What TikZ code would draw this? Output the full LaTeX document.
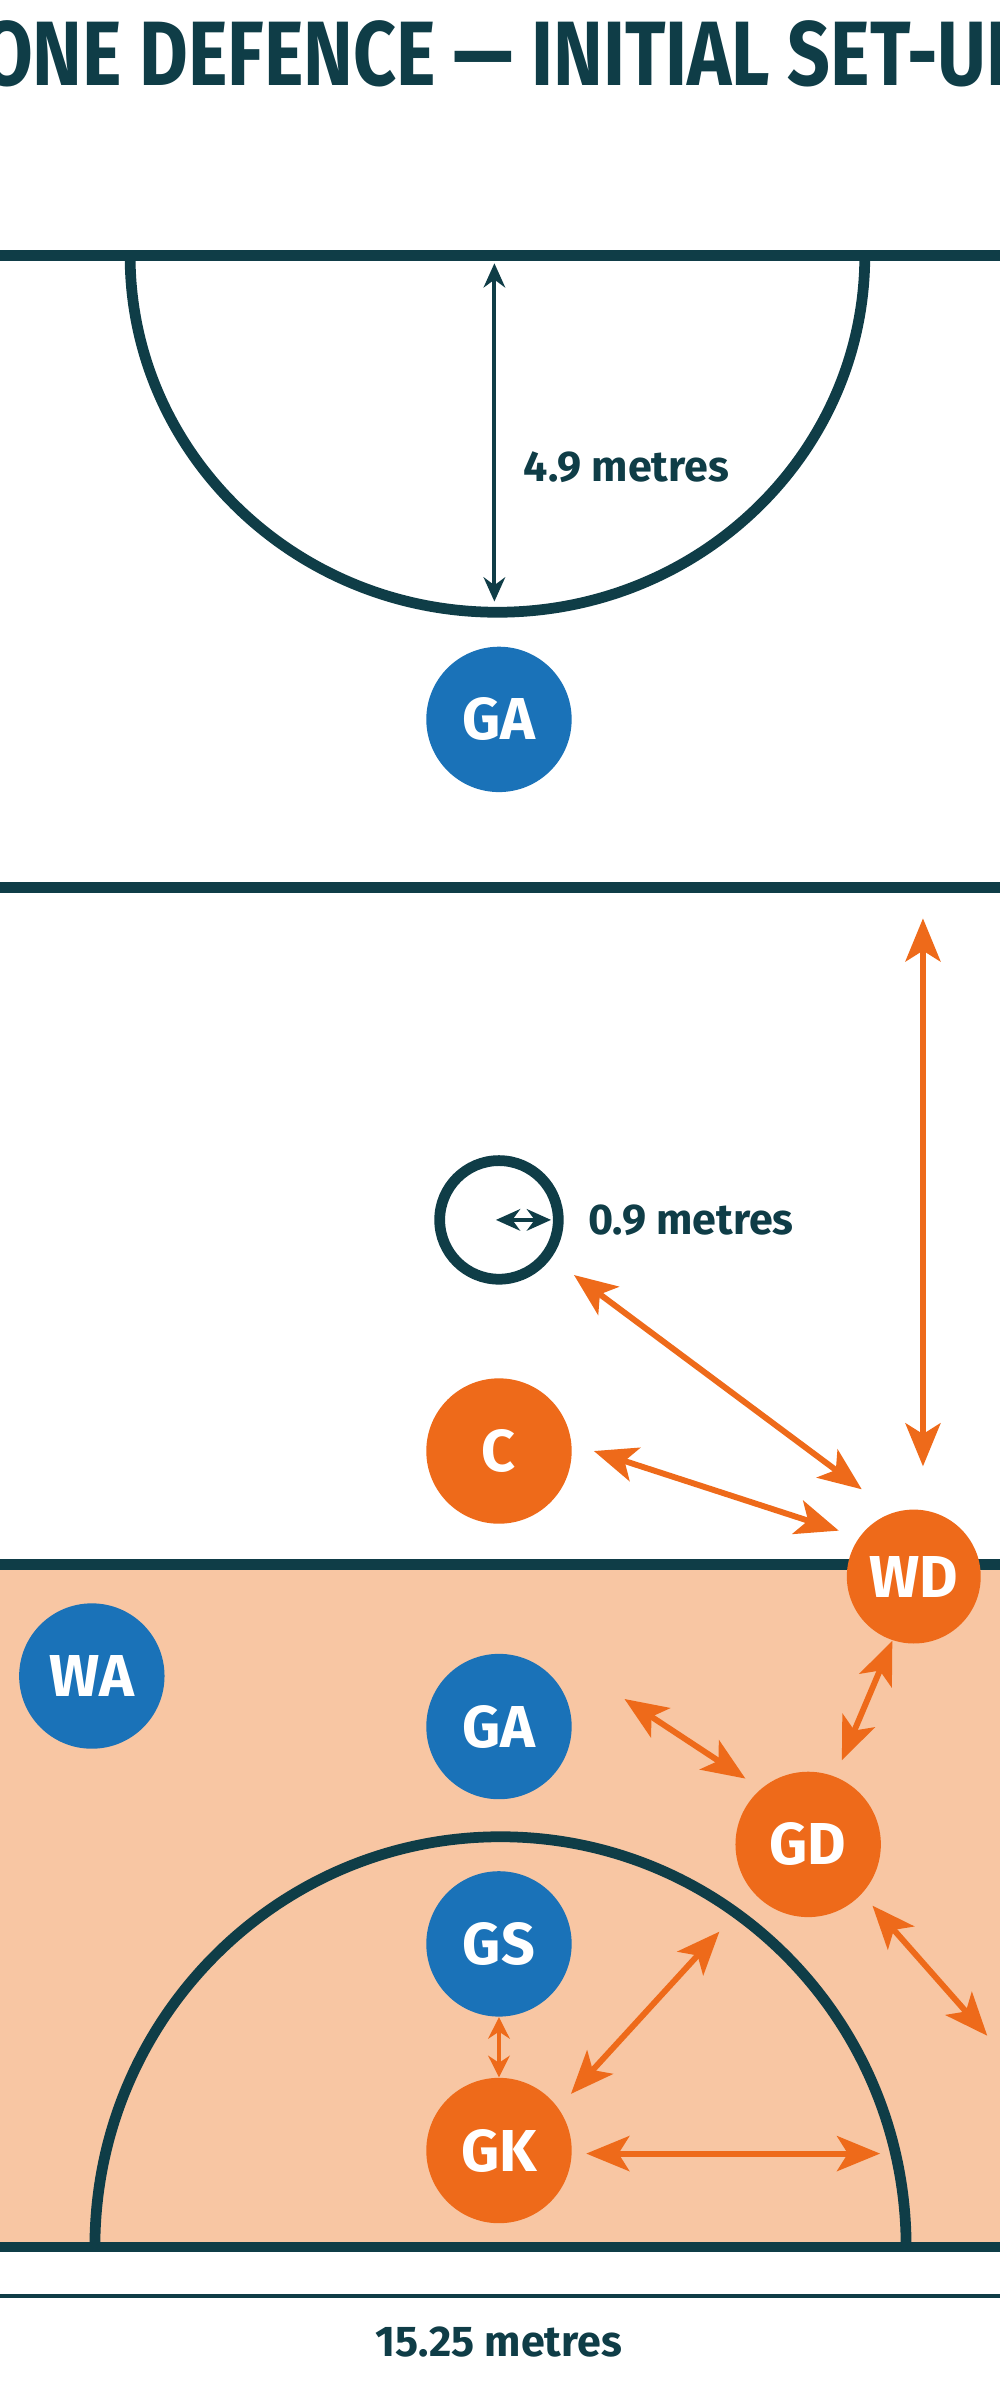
\documentclass[tikz,border=0pt]{standalone}
\usepackage{fontspec}
\setmainfont{Fira Sans}
\usetikzlibrary{arrows.meta}
\definecolor{teal}{HTML}{0F3D47}
\definecolor{pblue}{HTML}{1A72B8}
\definecolor{porange}{HTML}{EE6A1A}
\definecolor{zonefill}{HTML}{F8C6A3}
\begin{document}
\begin{tikzpicture}[x=0.02cm,y=-0.02cm,
  court/.style={teal,line width=4pt},
  player/.style={circle,minimum size=1.9cm,inner sep=0pt,text=white,font=\fontsize{22}{24}\selectfont\bfseries},
  bplayer/.style={player,fill=pblue},
  oplayer/.style={player,fill=porange},
  oarr/.style={porange,line width=2.2pt,{Stealth[length=16pt,width=13pt,inset=4pt]}-{Stealth[length=16pt,width=13pt,inset=4pt]}},
  darr/.style={teal,line width=1.5pt,{Stealth[length=9pt,width=8pt]}-{Stealth[length=9pt,width=8pt]}},
  lab/.style={teal,font=\fontsize{16}{18}\selectfont\bfseries}]
\useasboundingbox (0,0) rectangle (653,1568);
\fill[white] (0,0) rectangle (653,1568);
\fill[zonefill] (0,1022) rectangle (653,1468);
\begin{scope}
\clip (0,0) rectangle (653,1568);
\node[teal,font=\fontsize{34}{36}\selectfont\bfseries,xscale=0.82,transform shape] (title) at (318,35) {ZONE DEFENCE — INITIAL SET-UP};
\end{scope}
% court lines
\draw[court] (0,167) -- (653,167);
\draw[court] (85,167) arc[start angle=180,end angle=360,x radius=240,y radius=-233];
\draw[court] (0,580) -- (653,580);
\draw[court] (0,1022) -- (653,1022);
\draw[court] (62,1468) arc[start angle=180,end angle=0,x radius=265,y radius=-268];
\draw[court] (0,1468) -- (653,1468);
\draw[teal,line width=1.5pt] (0,1500) -- (653,1500);
\node[draw=teal,line width=4pt,circle,minimum size=1.55cm,inner sep=0pt] (cc) at (326,797) {};
% measures
\coordinate (t1) at (323,172); \coordinate (t2) at (323,393);
\draw[darr] (t1) -- (t2);
\node[lab,anchor=west] (l49) at (336,305) {4.9 metres};
\coordinate (c1) at (324,797); \coordinate (c2) at (360,797);
\draw[darr] (c1) -- (c2);
\node[lab,anchor=west] (l09) at (378,797) {0.9 metres};
\node[lab] (l15) at (326,1530) {15.25 metres};
% players
\node[bplayer] (GA1) at (326,470) {GA};
\node[oplayer] (C) at (326,948) {C};
\node[oplayer,minimum size=1.75cm] (WD) at (597,1030) {WD};
\node[bplayer] (WA) at (60,1095) {WA};
\node[bplayer] (GA2) at (326,1128) {GA};
\node[oplayer] (GD) at (528,1205) {GD};
\node[bplayer] (GS) at (326,1270) {GS};
\node[oplayer] (GK) at (326,1405) {GK};
% orange arrows
\coordinate (w1) at (603,600); \coordinate (w2) at (603,958);
\draw[oarr] (w1) -- (w2);
\coordinate (a1) at (375,833); \coordinate (a2) at (563,973);
\draw[oarr] (a1) -- (a2);
\coordinate (b1) at (388,948); \coordinate (b2) at (548,1000);
\draw[oarr] (b1) -- (b2);
\coordinate (d1) at (408,1110); \coordinate (d2) at (487,1162);
\draw[oarr] (d1) -- (d2);
\coordinate (e1) at (550,1150); \coordinate (e2) at (583,1072);
\draw[oarr] (e1) -- (e2);
\coordinate (f1) at (570,1245); \coordinate (f2) at (645,1330);
\draw[oarr] (f1) -- (f2);
\coordinate (g1) at (373,1368); \coordinate (g2) at (470,1262);
\draw[oarr] (g1) -- (g2);
\coordinate (h1) at (383,1407); \coordinate (h2) at (575,1407);
\draw[oarr] (h1) -- (h2);
\draw[porange,line width=1.5pt,{Stealth[length=8pt,width=8pt]}-{Stealth[length=8pt,width=8pt]}] (GS) -- (GK);
\end{tikzpicture}
\end{document}
